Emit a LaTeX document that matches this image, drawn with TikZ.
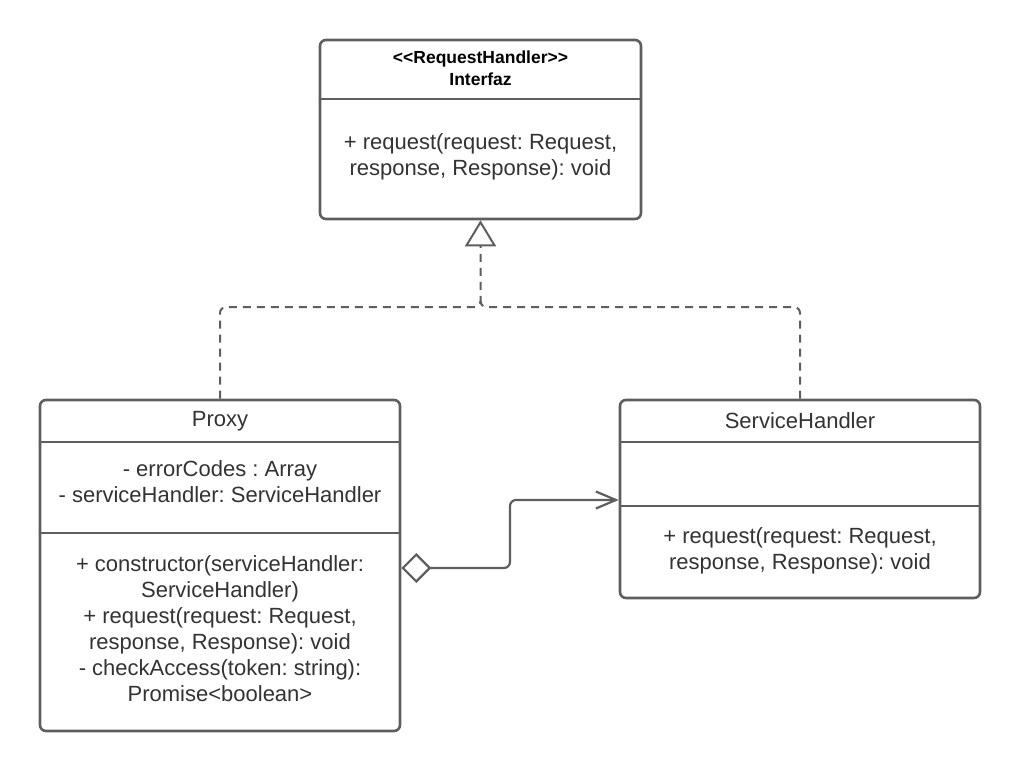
\documentclass[tikz,border=0pt]{standalone}
\usepackage{fontspec}
\setmainfont{Liberation Sans}
\usetikzlibrary{arrows.meta}
\frenchspacing

\definecolor{umlline}{HTML}{5E5E5E}
\definecolor{umltext}{HTML}{333333}

\tikzset{
  classbox/.style={draw=umlline, line width=2.6pt, rounded corners=6pt, fill=white, inner sep=0pt},
  divider/.style={draw=umlline, line width=2.6pt},
  member/.style={text=umltext, align=center, font=\fontsize{22}{26}\selectfont},
  stereo/.style={text=black, align=center, font=\bfseries\fontsize{17.5}{22}\selectfont},
  realize/.style={draw=umlline, line width=2pt, dash pattern=on 8pt off 6pt, rounded corners=6pt},
  aggr/.style={draw=umlline, line width=2.2pt, rounded corners=6pt}
}

\begin{document}
\begin{tikzpicture}[x=1pt,y=-1pt]
            \useasboundingbox (0,0) rectangle (1020,771);

            \node[classbox, minimum width=321pt, minimum height=179pt] (iface) at (480.5,129.5) {};
            \node[classbox, minimum width=360pt, minimum height=331pt] (proxy) at (220,565.5) {};
            \node[classbox, minimum width=360pt, minimum height=198pt] (handler) at (800,499) {};

            \draw[divider] (iface.west |- 0,99) -- (iface.east |- 0,99);
            \foreach \y in {442, 533}
                \draw[divider] (proxy.west |- 0,\y) -- (proxy.east |- 0,\y);
            \foreach \y in {442, 506}
                \draw[divider] (handler.west |- 0,\y) -- (handler.east |- 0,\y);

            \node[stereo] (ifacename) at (480.5,68) {<{}<RequestHandler>{}>\\Interfaz};
            \node[member] (ifaceops) at (480.5,157) {+ request(request: Request,\\response, Response): void};

            \node[member] (proxyname) at (220,421) {Proxy};
            \node[member] (proxyattrs) at (220,482) {- errorCodes : Array\\- serviceHandler: ServiceHandler};
            \node[member] (proxyops) at (220,629) {+ constructor(serviceHandler:\\ServiceHandler)\\+ request(request: Request,\\response, Response): void\\- checkAccess(token: string):\\Promise<boolean>};

            \node[member] (handlername) at (800,421) {ServiceHandler};
            \node[member] (handlerops) at (800,551) {+ request(request: Request,\\response, Response): void};

            \coordinate (fork) at (iface.south |- 0,307);
            \draw[realize, -{Triangle[open, length=26pt, width=31pt, fill=white]}] (proxy.north) |- (fork) -- (iface.south);
            \draw[realize] (handler.north) |- (fork) -- ++(0,-6);

            \coordinate (aggstart) at (proxy.east |- 0,568);
            \draw[aggr, {Diamond[open, length=30pt, width=30pt, fill=white]}-{Straight Barb[length=20pt, width=17pt]}] (aggstart) -- (510,568) |- (handler.west |- 0,500);
        \end{tikzpicture}
\end{document}
